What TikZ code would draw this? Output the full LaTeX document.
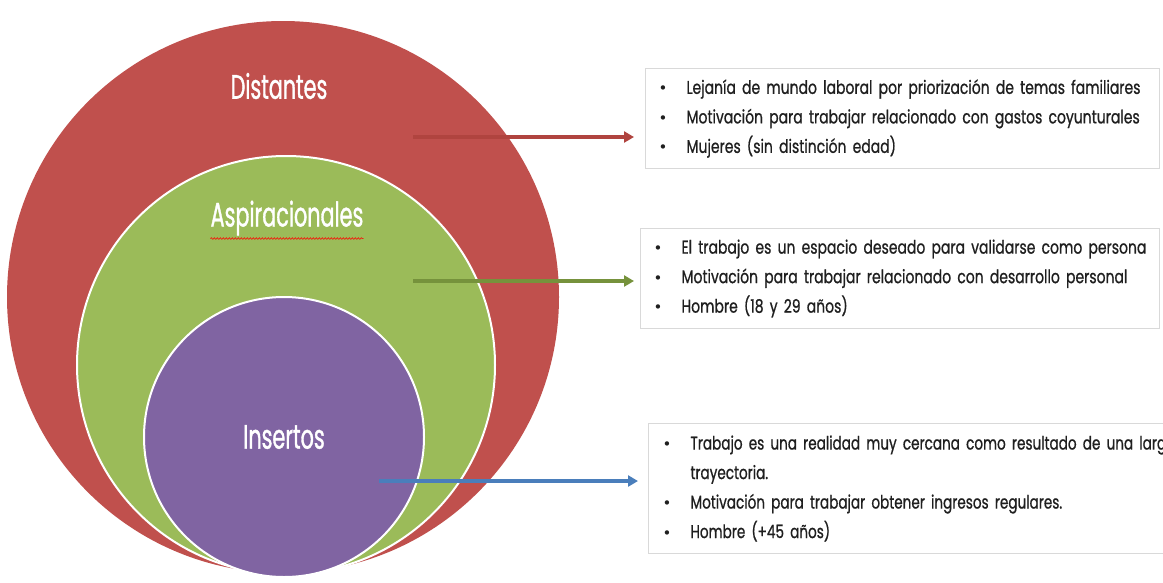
\documentclass[tikz,border=0pt]{standalone}
\usepackage{fontspec}
\setmainfont{Poppins}
\newfontfamily\condtitle{Poppins}[FakeStretch=0.61,FakeBold=1]
\newfontfamily\condbody{Poppins}[FakeStretch=0.755,FakeBold=0.8]
\newfontfamily\condbodyn{Poppins}[FakeStretch=0.735,FakeBold=0.8]
\newfontfamily\bulletfont{DejaVu Sans}
\usetikzlibrary{arrows.meta,decorations.pathmorphing}
\definecolor{cred}{HTML}{C0504D}
\definecolor{cgreen}{HTML}{9BBB59}
\definecolor{cpurple}{HTML}{8064A2}
\definecolor{aredc}{HTML}{B0443F}
\definecolor{agreenc}{HTML}{76923C}
\definecolor{abluec}{HTML}{4A7EBB}
\definecolor{boxline}{HTML}{D9D9D9}
\definecolor{bodytext}{HTML}{1F1F1F}
\newcommand{\bul}{\makebox[28pt][l]{\bulletfont\fontsize{15}{15}\selectfont\char"2022}}
\begin{document}
\begin{tikzpicture}[x=1pt,y=-1pt,
  ring/.style={circle,inner sep=0pt,draw=white,line width=2pt},
  ttl/.style={text=white,font=\condtitle\fontsize{34}{36}\selectfont,inner sep=0pt},
  infobox/.style={draw=boxline,line width=1pt,fill=white,anchor=north west,
     text=bodytext,align=left,inner ysep=0pt,
     font=\condbody\fontsize{18.5}{29.5}\selectfont},
  conn/.style={line width=3.4pt,-{Triangle[length=10pt,width=11pt]}},
  squiggle/.style={red,line width=0.6pt,decorate,
     decoration={snake,amplitude=0.8pt,segment length=3pt}}
]
\useasboundingbox (0,0) rectangle (1163,582);
\clip (0,0) rectangle (1163,582);
% circles
\node[circle,inner sep=0pt,fill=cred,minimum size=552pt] (red) at (283,297) {};
\node[ring,fill=cgreen,minimum size=418pt] (green) at (286,365) {};
\node[ring,fill=cpurple,minimum size=280pt] (purple) at (284,437) {};
% titles
\node[ttl] (tdist) at (279,86) {Distantes};
\node[ttl] (tasp) at (287,218) {Aspiracionales};
\coordinate (sqa) at ([yshift=-3pt]tasp.south west);
\coordinate (sqb) at ([yshift=-3pt]tasp.south east);
\draw[squiggle] (sqa) -- (sqb);
\node[ttl] (tins) at (284,437) {Insertos};
% boxes
\node[infobox,minimum width=514pt,minimum height=100pt,inner xsep=13pt,text width=488pt] (box1) at (645,68)
 {\bul Lejanía de mundo laboral por priorización de temas familiares\\
  \bul Motivación para trabajar relacionado con gastos coyunturales\\
  \bul Mujeres (sin distinción edad)};
\node[infobox,minimum width=519pt,minimum height=100pt,inner xsep=13pt,text width=493pt] (box2) at (640,228)
 {\bul El trabajo es un espacio deseado para validarse como persona\\
  \bul Motivación para trabajar relacionado con desarrollo personal\\
  \bul Hombre (18 y 29 años)};
\node[infobox,minimum width=560pt,minimum height=130pt,inner xsep=14pt,text width=532pt,
  font=\condbodyn\fontsize{18.5}{29.5}\selectfont] (box3) at (648,423)
 {\bul Trabajo es una realidad muy cercana como resultado de una larga\\
  \hspace*{28pt}trayectoria.\\
  \bul Motivación para trabajar obtener ingresos regulares.\\
  \bul Hombre (+45 años)};
% connectors
\coordinate (rs) at (413,137);
\coordinate (gs) at (413,281);
\coordinate (bs) at (379,481);
\draw[conn,aredc,shorten >=11pt] (rs) -- (rs -| box1.west);
\draw[conn,agreenc,shorten >=6pt] (gs) -- (gs -| box2.west);
\draw[conn,abluec,shorten >=10pt] (bs) -- (bs -| box3.west);
\end{tikzpicture}
\end{document}
